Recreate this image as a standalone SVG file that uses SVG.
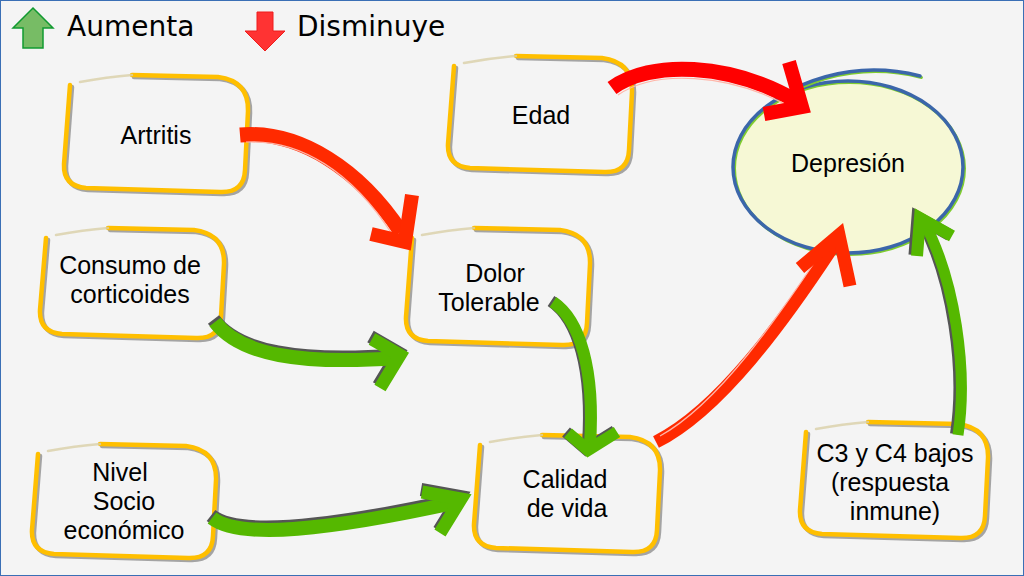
<svg xmlns="http://www.w3.org/2000/svg" width="1024" height="576" viewBox="0 0 1024 576">
<style>
.bx{fill:none;stroke:#ffbf00;stroke-width:4.5;stroke-linecap:round;stroke-linejoin:round}
.sh{fill:none;stroke:#8a8a8a;stroke-width:4.5;stroke-linecap:round;stroke-linejoin:round;opacity:.75}
.fd{fill:none;stroke:#d9cfa8;stroke-width:2.5;stroke-linecap:round;opacity:.8}
.t{font-family:"Liberation Sans",Arial,sans-serif;font-size:25px;fill:#000;text-anchor:middle}
.lg{font-family:"DejaVu Sans",sans-serif;font-size:28px;fill:#000}
.r{fill:none;stroke:#ff2a00;stroke-linecap:butt;stroke-linejoin:miter}
.r2{fill:none;stroke:#ff0000;stroke-linecap:butt;stroke-linejoin:miter}
.hl{fill:none;stroke:#ffb5a8;stroke-width:1.2}
.g{fill:none;stroke:#55b800;stroke-linecap:butt;stroke-linejoin:miter}
.gs{fill:none;stroke:#555;stroke-linecap:butt;stroke-linejoin:miter}
</style>
<rect x="0" y="0" width="1024" height="576" fill="#f4f4f4"/>
<rect x="0.5" y="0.5" width="1023" height="575" fill="none" stroke="#3a6fb5" stroke-width="1"/>

<g id="legend">
<path d="M33,8 L53,28 L43,28 L43,48 L23,48 L23,28 L13,28 Z" fill="#77bc65" stroke="#109a30" stroke-width="1.5"/>
<text class="lg" x="67" y="36">Aumenta</text>
<path d="M257,12 L273,12 L273,31 L285,31 L265,51 L245,31 L257,31 Z" fill="#ff3333" stroke="#ee1c1c" stroke-width="1"/>
<text class="lg" x="297" y="36">Disminuye</text>
</g>

<g id="n-artritis">
<g transform="translate(2,2)"><path class="sh" d="M70,85 L64,164 Q63,186 86,188 L220,192 Q244,193 245,170 L248,111 Q249,81 218,77 L132,75"/></g>
<path class="bx" d="M70,85 L64,164 Q63,186 86,188 L220,192 Q244,193 245,170 L248,111 Q249,81 218,77 L132,75"/>
<path class="fd" d="M132,75 Q107,77 80,82"/>
<text class="t" x="156" y="144">Artritis</text>
</g>

<g id="n-edad">
<g transform="translate(2,2)"><path class="sh" d="M454,66 L448,144 Q447,166 470,168 L604,172 Q628,173 629,150 L632,92 Q633,62 602,58 L516,56"/></g>
<path class="bx" d="M454,66 L448,144 Q447,166 470,168 L604,172 Q628,173 629,150 L632,92 Q633,62 602,58 L516,56"/>
<path class="fd" d="M516,56 Q491,58 464,63"/>
<text class="t" x="541" y="124">Edad</text>
</g>

<g id="n-consumo">
<g transform="translate(2,2)"><path class="sh" d="M46,238 L40,310 Q39,332 62,334 L196,338 Q220,339 221,316 L224,264 Q225,234 194,230 L108,228"/></g>
<path class="bx" d="M46,238 L40,310 Q39,332 62,334 L196,338 Q220,339 221,316 L224,264 Q225,234 194,230 L108,228"/>
<path class="fd" d="M108,228 Q83,230 56,235"/>
<text class="t"><tspan x="130" y="274">Consumo de</tspan><tspan x="130" y="303">corticoides</tspan></text>
</g>

<g id="n-dolor">
<g transform="translate(2,2)"><path class="sh" d="M412,238 L406,317 Q405,339 428,341 L562,345 Q586,346 587,323 L590,264 Q591,234 560,230 L474,228"/></g>
<path class="bx" d="M412,238 L406,317 Q405,339 428,341 L562,345 Q586,346 587,323 L590,264 Q591,234 560,230 L474,228"/>
<path class="fd" d="M474,228 Q449,230 422,235"/>
<text class="t"><tspan x="495" y="282">Dolor</tspan><tspan x="489" y="311">Tolerable</tspan></text>
</g>

<g id="n-nivel">
<g transform="translate(2,2)"><path class="sh" d="M38,454 L32,530 Q31,552 54,554 L188,558 Q212,559 213,536 L216,480 Q217,450 186,446 L100,444"/></g>
<path class="bx" d="M38,454 L32,530 Q31,552 54,554 L188,558 Q212,559 213,536 L216,480 Q217,450 186,446 L100,444"/>
<path class="fd" d="M100,444 Q75,446 48,451"/>
<text class="t"><tspan x="120" y="481">Nivel</tspan><tspan x="124" y="510">Socio</tspan><tspan x="124" y="539">económico</tspan></text>
</g>

<g id="n-calidad">
<g transform="translate(2,2)"><path class="sh" d="M480,445 L474,524 Q473,546 496,548 L632,552 Q656,553 657,530 L660,471 Q661,441 630,437 L542,435"/></g>
<path class="bx" d="M480,445 L474,524 Q473,546 496,548 L632,552 Q656,553 657,530 L660,471 Q661,441 630,437 L542,435"/>
<path class="fd" d="M542,435 Q517,437 490,442"/>
<text class="t"><tspan x="565" y="488">Calidad</tspan><tspan x="567" y="517">de vida</tspan></text>
</g>

<g id="n-c3c4">
<g transform="translate(2,2)"><path class="sh" d="M806,432 L800,510 Q799,532 822,534 L960,538 Q984,539 985,516 L988,458 Q989,428 958,424 L868,422"/></g>
<path class="bx" d="M806,432 L800,510 Q799,532 822,534 L960,538 Q984,539 985,516 L988,458 Q989,428 958,424 L868,422"/>
<path class="fd" d="M868,422 Q843,424 816,429"/>
<text class="t"><tspan x="895" y="462">C3 y C4 bajos</tspan><tspan x="890" y="491">(respuesta</tspan><tspan x="895" y="520">inmune)</tspan></text>
</g>

<g id="n-depresion">
<ellipse cx="848" cy="167" rx="115" ry="86" fill="#f6f8d5"/>
<ellipse cx="849.5" cy="168.5" rx="115" ry="86" fill="none" stroke="#7fcc30" stroke-width="3"/>
<ellipse cx="848" cy="167" rx="115" ry="86" fill="none" stroke="#3b66aa" stroke-width="3.5"/>
<path d="M779.5,98.5 Q848.5,59 921.5,77.5" fill="none" stroke="#7fcc30" stroke-width="3" stroke-linecap="round"/>
<path d="M778,97 Q847,57.5 920,76" fill="none" stroke="#3b66aa" stroke-width="3.5" stroke-linecap="round"/>
<text class="t" x="848" y="172">Depresión</text>
</g>

<g id="connectors">
<!-- Artritis -> Dolor (red) -->
<g id="c-artritis-dolor">
<path class="r" stroke-width="15" d="M240,135 C300,130 360,170 401,232"/>
<path class="hl" d="M246,142 C300,139 352,172 392,234"/>
<path class="r" stroke-width="14" d="M412,195 L405,242 L371,234"/>
</g>
<!-- Edad -> Depresion (red) -->
<g id="c-edad-depresion">
<path class="r2" stroke-width="15" d="M612,88 C650,60 730,62 798,102"/>
<path class="hl" d="M618,95 C654,70 728,72 792,108"/>
<path class="r2" stroke-width="14" d="M789,62 L802,107 L764,114"/>
</g>
<!-- Consumo -> Dolor (green) -->
<g id="c-consumo-dolor">
<g transform="translate(-1.5,-2.5)">
<path class="gs" stroke-width="14" d="M215,322 C240,355 300,365 398,358"/>
<path class="gs" stroke-width="13" d="M372,339 L400,355 L380,388"/>
</g>
<path class="g" stroke-width="14" d="M215,322 C240,355 300,365 398,358"/>
<path class="g" stroke-width="13" d="M372,339 L400,355 L380,388"/>
</g>
<!-- Dolor -> Calidad (green) -->
<g id="c-dolor-calidad">
<g transform="translate(-2,-1)">
<path class="gs" stroke-width="12" d="M553,302 C580,320 595,370 590,445"/>
<path class="gs" stroke-width="12" d="M568,433 L588,450 L617,432"/>
</g>
<path class="g" stroke-width="12" d="M553,302 C580,320 595,370 590,445"/>
<path class="g" stroke-width="12" d="M568,433 L588,450 L617,432"/>
</g>
<!-- Nivel -> Calidad (green) -->
<g id="c-nivel-calidad">
<g transform="translate(-1,-2.5)">
<path class="gs" stroke-width="14" d="M212,518 C240,540 330,530 458,502"/>
<path class="gs" stroke-width="13" d="M422,492 L461,499 L440,533"/>
</g>
<path class="g" stroke-width="14" d="M212,518 C240,540 330,530 458,502"/>
<path class="g" stroke-width="13" d="M422,492 L461,499 L440,533"/>
</g>
<!-- Calidad -> Depresion (red) -->
<g id="c-calidad-depresion">
<path class="r" stroke-width="13" d="M656,442 C720,410 785,320 836,242"/>
<path class="hl" d="M660,436 C718,404 778,318 828,242"/>
<path class="r" stroke-width="13" d="M800,268 L839,235 L850,286"/>
</g>
<!-- C3 -> Depresion (green) -->
<g id="c-c3-depresion">
<g transform="translate(-2.5,-1)">
<path class="gs" stroke-width="11" d="M958,435 C968,370 955,280 924,222"/>
<path class="gs" stroke-width="12" d="M917,256 L920,218 L952,236"/>
</g>
<path class="g" stroke-width="11" d="M958,435 C968,370 955,280 924,222"/>
<path class="g" stroke-width="12" d="M917,256 L920,218 L952,236"/>
</g>
</g>
</svg>
